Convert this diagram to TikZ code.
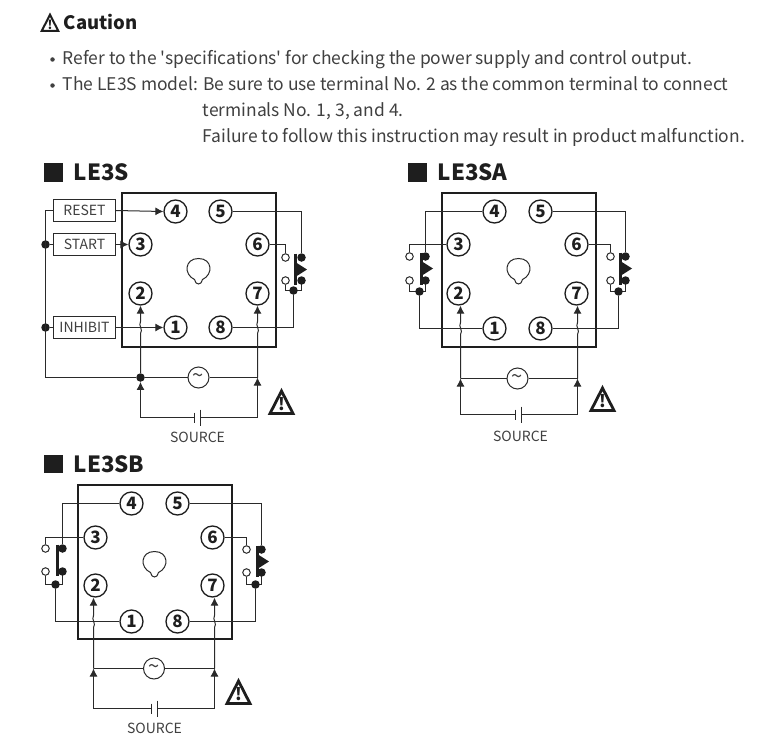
\documentclass[tikz,border=0pt]{standalone}
\usepackage{fontspec}
\setmainfont{Noto Sans CJK KR}[Ligatures=TeXOff]
\usetikzlibrary{arrows.meta,calc}
\definecolor{ink}{HTML}{1E1E1E}
\definecolor{wirec}{HTML}{2A2A2A}
\definecolor{gtext}{HTML}{404040}
\tikzset{
  wire/.style={draw=wirec,line width=1pt},
  tip/.style={-{Latex[length=8pt,width=8pt]}},
  term/.style={circle,draw=ink,line width=1.3pt,fill=white,minimum size=23pt,inner sep=0pt,font=\fontsize{17}{17}\selectfont\bfseries,text=ink},
  case/.style={draw=ink,line width=2pt},
  dot/.style={circle,fill=ink,minimum size=8.5pt,inner sep=0pt},
  odot/.style={circle,draw=wirec,line width=1pt,fill=white,minimum size=7.5pt,inner sep=0pt},
  acs/.style={circle,draw=wirec,line width=1pt,fill=white,minimum size=21pt,inner sep=0pt,font=\fontsize{20}{20}\selectfont,text=gtext},
  lbox/.style={draw=wirec,line width=1pt,fill=white,minimum width=62pt,minimum height=22pt,inner sep=0pt,font=\fontsize{14}{14}\selectfont,text=gtext},
  srctxt/.style={font=\fontsize{14}{14}\selectfont,text=gtext},
  head/.style={anchor=base west,inner sep=0pt,font=\fontsize{22.3}{24}\selectfont\bfseries,text=ink},
  body/.style={anchor=base west,inner sep=0pt,font=\fontsize{17.45}{20}\selectfont,text=gtext},
  bullet/.style={circle,fill=gtext,minimum size=4.5pt,inner sep=0pt},
}
\newcommand{\socket}[9]{%
  \node[term] (#14) at (#2,#3) {4};
  \node[term] (#15) at (#4,#3) {5};
  \node[term] (#13) at (#5,#6) {3};
  \node[term] (#16) at (#7,#6) {6};
  \node[term] (#12) at (#5,#8) {2};
  \node[term] (#17) at (#7,#8) {7};
  \node[term] (#11) at (#2,#9) {1};
  \node[term] (#18) at (#4,#9) {8};
}
\newcommand{\bulb}[2]{%
  \draw[wire,shift={(#1,#2)}] (-4,10) .. controls (-15,5) and (-14,-11) .. (0,-11)
     .. controls (14,-11) and (15,5) .. (4,10) .. controls (3,16) and (-3,16) .. (-4,10);
}
\newcommand{\warn}[3]{%
  \pgfmathsetmacro{\wfs}{#3*17}%
  \draw[draw=ink,line width=#3*2.8pt,line join=miter,shift={(#1,#2)},scale=#3] (0,-11.5) -- (11.5,11) -- (-11.5,11) -- cycle;
  \node[inner sep=0pt,text=ink,font=\fontsize{\wfs}{15}\selectfont\bfseries] at (#1,#2+#3*2) {!};
}
\newcommand{\relay}[9]{%
  \node[odot] (#1ot) at (#2,#5) {};
  \node[odot] (#1ob) at (#2,#6) {};
  \coordinate (#1jl) at (#2,#7);
  \coordinate (#1jr) at (#3,#7);
  \draw[wire] (#1ob.south) -- (#1jl) -- (#1jr) -- (#3,#6);
  \node[dot] (#1j) at (#8,#7) {};
  \draw[draw=ink,line width=2.4pt] (#4,#5-4) -- (#4,#6+4);
  #9
  \node[dot] (#1dt) at (#3,#5) {};
  \node[dot] (#1db) at (#3,#6) {};
}
\newcommand{\relaytri}[2]{\fill[ink] (#1,#2-7) -- (#1+11,#2) -- (#1,#2+7) -- cycle;}
\newcommand{\jump}[4]{%
  \pgfmathsetmacro{\ja}{#4+6}\pgfmathsetmacro{\jb}{#4-6}%
  \pgfmathsetmacro{\jc}{#3+3}\pgfmathsetmacro{\jd}{#3-2.5}%
  \pgfmathsetmacro{\je}{#4+2}\pgfmathsetmacro{\jf}{#4-2}%
  \draw[wire,tip] (#1) -- (#3,\ja) .. controls (\jc,\je) and (\jd,\jf) .. (#3,\jb) -- (#1 |- #2.south);
}
\newcommand{\battery}[4]{%
  \coordinate (#1l) at (#2,#4);
  \coordinate (#1r) at (#3,#4);
  \coordinate (#1sa) at (#2,#4-5);
  \coordinate (#1sb) at (#2,#4+5);
  \coordinate (#1la) at (#3,#4-8);
  \coordinate (#1lb) at (#3,#4+8);
  \draw[wire] (#1sa) -- (#1sb);
  \draw[wire] (#1la) -- (#1lb);
}
\begin{document}
\begin{tikzpicture}[x=1pt,y=-1pt]
\useasboundingbox (0,0) rectangle (784,752);
\fill[white] (0,0) rectangle (784,752);
\begin{scope}[shift={(0.5,0.5)}]
% --- caution text
\warn{49.5}{22.5}{0.72}
\node[head,font=\fontsize{18.5}{21}\selectfont\bfseries] (ctitle) at (63,29) {Caution};
\node[bullet] (b1) at (52,59) {};
\node[bullet] (b2) at (52,85) {};
\node[body] (l1) at (62,64) {Refer to the 'specifications' for checking the power supply and control output.};
\node[body] (l2) at (62,90) {The LE3S model: Be sure to use terminal No. 2 as the common terminal to connect};
\node[body] (l3) at (202,116) {terminals No. 1, 3, and 4.};
\node[body] (l4) at (202,142) {Failure to follow this instruction may result in product malfunction.};

% --- LE3S
\fill[ink] (43,162) rectangle (62,181);
\node[head] (ta) at (73,180) {LE3S};
\draw[case] (121,192) rectangle (275,346);
\bulb{198}{269}
\socket{a}{175}{211}{220}{140}{244}{257}{293}{327}
\node[lbox] (reset) at (84,210) {RESET};
\node[lbox] (start) at (84,244) {START};
\node[lbox] (inhibit) at (84,327) {INHIBIT};
\node[dot] (ds) at (45,244) {};
\node[dot] (di) at (45,327) {};
\node[dot] (ar) at (140,377) {};
\node[acs] (aac) at (198,377) {\textasciitilde};
\coordinate (ac1) at (45,210);
\coordinate (ac2) at (45,377);
\coordinate (ar2) at (257,377);
\draw[wire] (reset.west) -- (ac1) -- (ac2) -- (ar) -- (aac) -- (ar2);
\draw[wire] (ds) -- (start.west);
\draw[wire] (di) -- (inhibit.west);
\draw[wire,tip] (reset.east) -- (a4.west);
\draw[wire,tip] (start.east) -- (a3.west);
\draw[wire,tip] (inhibit.east) -- (a1.west);
\jump{ar}{a2}{140}{327}
\jump{ar2}{a7}{257}{327}
\relay{ra}{285}{301}{295}{257}{280}{290}{293}{\relaytri{295.5}{269}}
\draw[wire] (a5.east) -| (radt.north);
\draw[wire] (a6.east) -| (raot.north);
\draw[wire] (raj) |- (a8.east);
\battery{ab}{194}{200}{417}
\draw[wire,tip] (abl) -| (ar.south);
\draw[wire,tip] (abr) -| (ar2);
\node[srctxt] (sa) at (197,437) {SOURCE};
\warn{281}{402}{1}

% --- LE3SA
\fill[ink] (407,162) rectangle (426,181);
\node[head] (tb) at (437,180) {LE3SA};
\draw[case] (441,192) rectangle (595,346);
\bulb{518}{269}
\socket{b}{494}{211}{540}{458}{244}{576}{293}{328}
\coordinate (brl) at (460,378);
\node[acs] (bac) at (517,378) {\textasciitilde};
\coordinate (brr) at (577,378);
\draw[wire] (brl) -- (bac) -- (brr);
\jump{brl}{b2}{460}{328}
\jump{brr}{b7}{577}{328}
\relay{rb}{409}{425}{421}{256}{280}{291}{419}{\relaytri{421.5}{268}}
\draw[wire] (b4.west) -| (rbdt.north);
\draw[wire] (b3.west) -| (rbot.north);
\draw[wire] (rbj) |- (b1.west);
\relay{rc}{610}{625}{620}{256}{280}{291}{618}{\relaytri{620.5}{268}}
\draw[wire] (b5.east) -| (rcdt.north);
\draw[wire] (b6.east) -| (rcot.north);
\draw[wire] (rcj) |- (b8.east);
\battery{bb}{515}{521}{414}
\draw[wire,tip] (bbl) -| (brl);
\draw[wire,tip] (bbr) -| (brr);
\node[srctxt] (sb) at (520,436) {SOURCE};
\warn{602}{399}{1}

% --- LE3SB
\fill[ink] (43,454) rectangle (62,472);
\node[head] (tc) at (73,472) {LE3SB};
\draw[case] (77,484) rectangle (231,638);
\bulb{154}{562}
\socket{c}{131}{503}{177}{95}{537}{212}{585}{621}
\coordinate (crl) at (93,668);
\node[acs] (cac) at (153.5,668) {\textasciitilde};
\coordinate (crr) at (214,668);
\draw[wire] (crl) -- (cac) -- (crr);
\jump{crl}{c2}{93}{621}
\jump{crr}{c7}{214}{621}
\relay{rd}{45}{62}{57}{548}{571}{584}{55}{}
\draw[wire] (c4.west) -| (rddt.north);
\draw[wire] (c3.west) -| (rdot.north);
\draw[wire] (rdj) |- (c1.west);
\relay{re}{246}{261}{257}{549}{572}{584}{255}{\relaytri{257.5}{561}}
\draw[wire] (c5.east) -| (redt.north);
\draw[wire] (c6.east) -| (reot.north);
\draw[wire] (rej) |- (c8.east);
\battery{cb}{151}{157}{708}
\draw[wire,tip] (cbl) -| (crl);
\draw[wire,tip] (cbr) -| (crr);
\node[srctxt] (sc) at (154,728) {SOURCE};
\warn{238}{692}{1}
\end{scope}
\end{tikzpicture}
\end{document}
